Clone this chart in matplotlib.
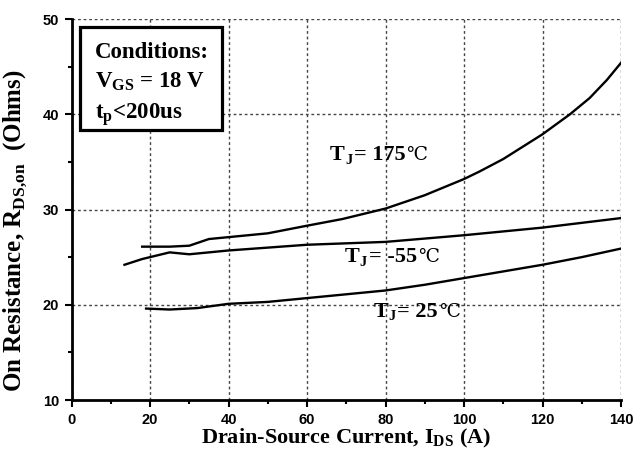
import matplotlib.pyplot as plt
from matplotlib.patches import Rectangle
from matplotlib.ticker import MultipleLocator

plt.rcParams['mathtext.fontset'] = 'custom'
plt.rcParams['mathtext.bf'] = 'Liberation Serif:bold'
plt.rcParams['mathtext.rm'] = 'Liberation Serif:bold'

# On-resistance vs drain-source current at three junction temperatures
i_175 = [18, 25, 30, 35, 40, 50, 60, 69, 80, 90, 100, 104, 110, 120, 127, 132, 136.4, 140]
r_175 = [26.1, 26.1, 26.2, 26.9, 27.1, 27.5, 28.3, 29.0, 30.1, 31.5, 33.2, 34.0, 35.3,
         37.9, 40.0, 41.7, 43.6, 45.4]

i_m55 = [13.5, 18, 20, 25, 30, 40, 50, 60, 80, 100, 112.5, 120, 140]
r_m55 = [24.2, 24.8, 25.0, 25.5, 25.3, 25.7, 26.0, 26.3, 26.6, 27.3, 27.8, 28.1, 29.1]

i_25 = [19, 25, 32, 40, 50, 60, 70, 80, 90, 100, 110, 120, 130, 140]
r_25 = [19.6, 19.5, 19.65, 20.1, 20.3, 20.7, 21.1, 21.5, 22.1, 22.8, 23.5, 24.2, 25.0, 25.9]

temps = ['= 175', '= -55', '= 25']
label_pos = [(65.9, 35.2), (69.7, 24.5), (76.9, 18.75)]

serif = 'Liberation Serif'
sans = 'Liberation Sans'

fig = plt.figure(figsize=(6.34, 4.57), dpi=100)
ax = fig.add_axes([0.1128, 0.1247, 0.8667, 0.8337])

for x, y in [(i_175, r_175), (i_m55, r_m55), (i_25, r_25)]:
    ax.plot(x, y, color='black', lw=1.7)

ax.set_xlim(0, 140)
ax.set_ylim(10, 50)
ax.xaxis.set_major_locator(MultipleLocator(20))
ax.xaxis.set_minor_locator(MultipleLocator(10))
ax.yaxis.set_major_locator(MultipleLocator(10))
ax.yaxis.set_minor_locator(MultipleLocator(5))
ax.grid(True, which='major', ls=(0, (2, 2)), color='#444444', lw=1.0)

for s in ['top', 'right']:
    ax.spines[s].set_visible(False)
for s in ['left', 'bottom']:
    ax.spines[s].set_linewidth(2)
ax.tick_params(which='major', length=5, width=1.5, direction='out', pad=4)
ax.tick_params(which='minor', length=3, width=1.5, direction='out')
for lab in ax.get_xticklabels() + ax.get_yticklabels():
    lab.set_fontfamily(sans)
    lab.set_fontweight('bold')
    lab.set_fontsize(10.5)

ax.set_xlabel(r'Drain-Source Current, I$_{\mathbf{DS}}$ (A)', fontfamily=serif,
              fontweight='bold', fontsize=16, labelpad=0)
ax.set_ylabel(r'On Resistance, R$_{\mathbf{DS{,}on}}$  (Ohms)', fontfamily=serif,
              fontweight='bold', fontsize=18)
ax.yaxis.set_label_coords(-0.078, 0.445)

# curve labels: "T", subscript "J", the value, then the degree sign
fs = 16
for (lx, ly), txt in zip(label_pos, temps):
    t1 = ax.text(lx, ly, 'T', fontfamily=serif, fontweight='bold', fontsize=fs,
                 va='baseline')
    t2 = ax.annotate('J', xy=(1, 0), xycoords=t1, xytext=(0, 1),
                     textcoords='offset points', fontfamily=serif,
                     fontweight='bold', fontsize=fs * 0.65, va='baseline')
    t3 = ax.annotate(txt, xy=(1, ly), xycoords=(t2, 'data'), xytext=(1.5, 0),
                     textcoords='offset points', fontfamily=serif,
                     fontweight='bold', fontsize=fs, va='baseline')
    ax.annotate('℃', xy=(1, ly), xycoords=(t3, 'data'), xytext=(0.5, 0),
                textcoords='offset points', fontfamily=['DejaVu Serif', 'Noto Sans CJK SC'],
                fontsize=13.5, va='baseline')

# test conditions box
ax.add_patch(Rectangle((0.0155, 0.7087), 0.2581, 0.2703, transform=ax.transAxes,
                       fc='white', ec='black', lw=2.3, zorder=5))
ax.text(6.0, 47.6, 'Conditions:\n' + r'V$_{\mathbf{GS}}$ = 18 V' + '\n' + r't$_{\mathbf{p}}$<200us',
        va='top', ha='left', linespacing=1.45, zorder=6,
        fontfamily=serif, fontweight='bold', fontsize=16.5)

fig.savefig('out.png', dpi=100)
